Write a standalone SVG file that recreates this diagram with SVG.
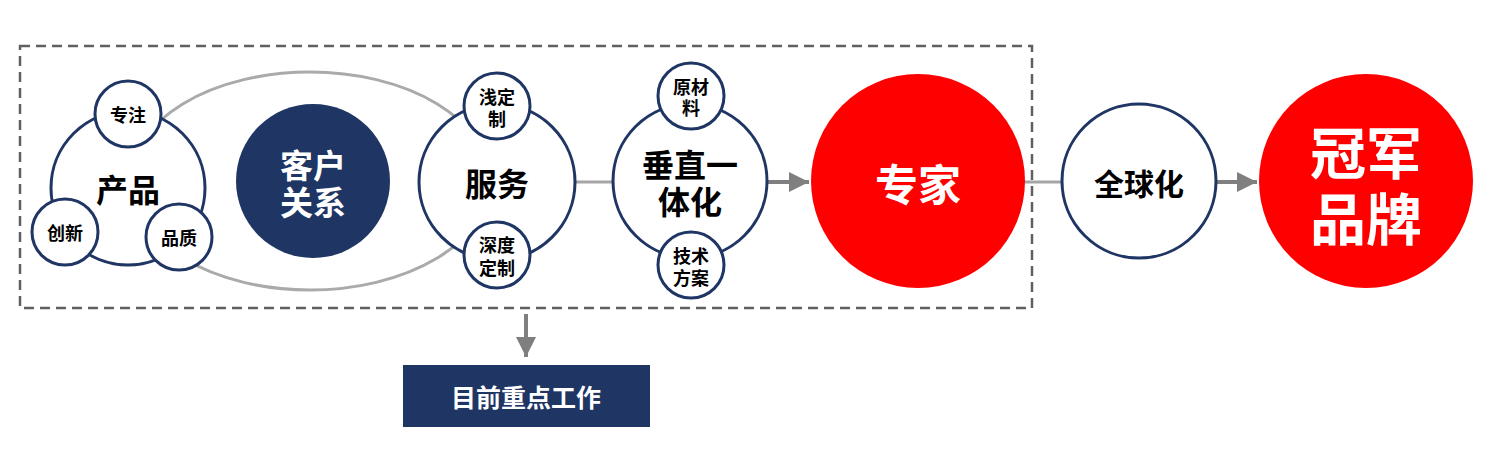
<svg xmlns="http://www.w3.org/2000/svg" width="1497" height="462" viewBox="0 0 1497 462">
<defs>
<style>
.c{fill:#fff;stroke:#1f3564;stroke-width:3}
.t{font-family:"Noto Sans CJK SC","Noto Sans",sans-serif;font-weight:bold;text-anchor:middle;dominant-baseline:central;fill:#000}
.w{fill:#fff}
.s{font-size:18px}
.m{font-size:32px}
.ln{stroke:#a6a6a6;stroke-width:3;fill:none}
.ar{stroke:#7f7f7f;stroke-width:4;fill:none}
</style>
<marker id="ah" viewBox="0 0 10 10" refX="10" refY="5" markerWidth="20" markerHeight="20" markerUnits="userSpaceOnUse" orient="auto">
<path d="M0,0 L10,5 L0,10 z" fill="#7f7f7f"/>
</marker>
</defs>
<rect x="20" y="46" width="1012" height="262" fill="none" stroke="#606060" stroke-width="2.5" stroke-dasharray="10,6"/>
<g id="connectors">
<line class="ln" x1="575" y1="182" x2="614" y2="182"/>
<line class="ar" x1="767" y1="182" x2="809" y2="182" marker-end="url(#ah)"/>
<line class="ln" x1="1024" y1="182" x2="1062" y2="182"/>
<line class="ar" x1="1217" y1="182" x2="1257" y2="182" marker-end="url(#ah)"/>
<line class="ar" x1="526" y1="314" x2="526" y2="357" marker-end="url(#ah)"/>
</g>
<g id="relation">
<ellipse cx="310" cy="181" rx="180" ry="109" fill="none" stroke="#aaaaaa" stroke-width="3"/>
<circle cx="313" cy="181" r="77" fill="#1f3564"/>
<text class="t w" x="313" font-size="33"><tspan x="313" y="164">客户</tspan><tspan x="313" y="201">关系</tspan></text>
</g>
<g id="product">
<circle class="c" cx="128" cy="188" r="77"/>
<text class="t m" x="128" y="188">产品</text>
</g>
<g id="focus"><circle class="c" cx="128" cy="114" r="33"/><text class="t s" x="128" y="114">专注</text></g>
<g id="innovation"><circle class="c" cx="65" cy="232" r="33"/><text class="t s" x="65" y="232">创新</text></g>
<g id="quality"><circle class="c" cx="179" cy="237" r="33"/><text class="t s" x="179" y="237">品质</text></g>
<g id="service">
<circle class="c" cx="497" cy="182" r="78"/>
<text class="t m" x="497" y="182">服务</text>
</g>
<g id="shallow"><circle class="c" cx="497" cy="106" r="33"/><text class="t s" x="497"><tspan x="497" y="96">浅定</tspan><tspan x="497" y="118">制</tspan></text></g>
<g id="deep"><circle class="c" cx="497" cy="255" r="33"/><text class="t s" x="497"><tspan x="497" y="244">深度</tspan><tspan x="497" y="267">定制</tspan></text></g>
<g id="vertical">
<circle class="c" cx="690" cy="181" r="77"/>
<text class="t m" x="690"><tspan x="690" y="163">垂直一</tspan><tspan x="690" y="200">体化</tspan></text>
</g>
<g id="material"><circle class="c" cx="691" cy="96" r="33"/><text class="t s" x="691"><tspan x="691" y="86">原材</tspan><tspan x="691" y="107">料</tspan></text></g>
<g id="solution"><circle class="c" cx="691" cy="265" r="33"/><text class="t s" x="691"><tspan x="691" y="255">技术</tspan><tspan x="691" y="277">方案</tspan></text></g>
<g id="expert">
<circle cx="918" cy="181" r="107" fill="#ff0000"/>
<text class="t w" x="918" y="182" font-size="43">专家</text>
</g>
<g id="global">
<circle class="c" cx="1139" cy="181" r="77"/>
<text class="t" x="1139" y="182" font-size="30">全球化</text>
</g>
<g id="champion">
<circle cx="1366" cy="181" r="107" fill="#ff0000"/>
<text class="t w" x="1366" font-size="56"><tspan x="1366" y="149">冠军</tspan><tspan x="1366" y="215">品牌</tspan></text>
</g>
<g id="current">
<rect x="403" y="365" width="247" height="62" fill="#1f3564"/>
<text class="t w" x="526" y="396" font-size="25">目前重点工作</text>
</g>
</svg>
